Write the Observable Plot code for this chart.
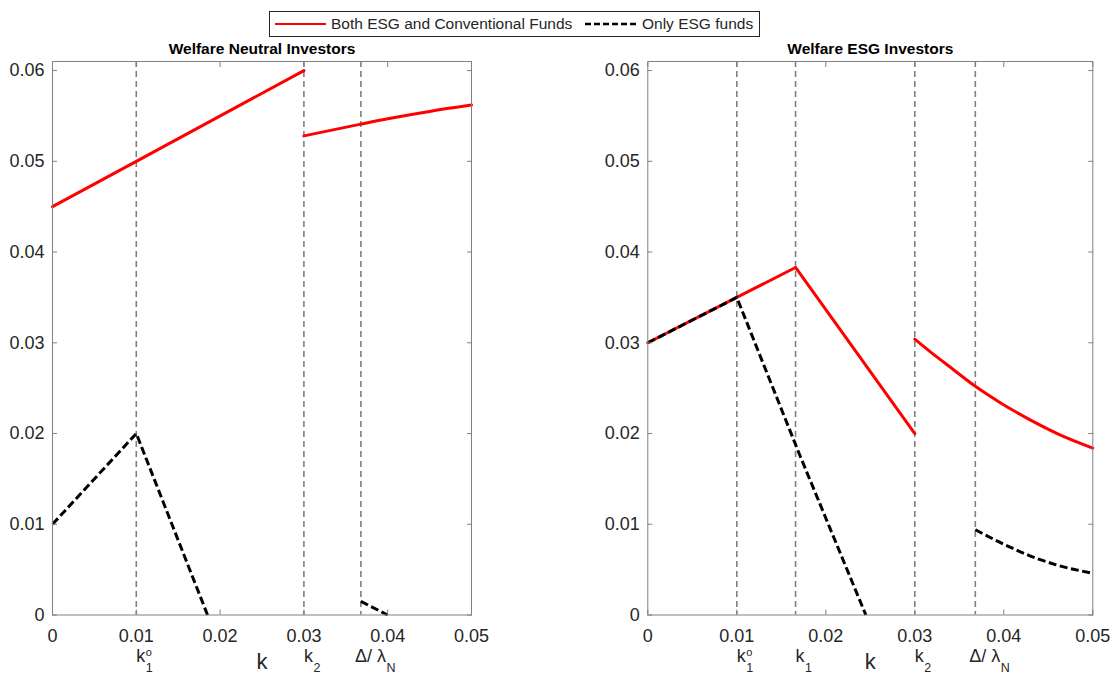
<!DOCTYPE html>
<html><head><meta charset="utf-8">
<script src="https://cdn.jsdelivr.net/npm/d3@7"></script>
<script src="https://cdn.jsdelivr.net/npm/@observablehq/plot@0.6"></script>
<style>
body{margin:0;background:#fff;font-family:"Liberation Sans",Arial,Helvetica,sans-serif;}
#wrap{position:relative;width:1118px;height:675px;overflow:hidden;background:#fff;}
.panel{position:absolute;top:0;}
#legend{position:absolute;left:269px;top:11px;width:491px;height:26px;border:1px solid #262626;background:#fff;box-sizing:border-box;}
</style></head><body>
<div id="wrap"><div id="p1" class="panel" style="left:0px"></div><div id="p2" class="panel" style="left:560px"></div><div id="legend"></div></div>
<script>
// ---------- data ----------
const seriesNames = ["Both ESG and Conventional Funds", "Only ESG funds"];
const seriesColors = ["#ff0000", "#000000"];

const xTicks = [0, 0.01, 0.02, 0.03, 0.04, 0.05];
const xTickLabels = ["0", "0.01", "0.02", "0.03", "0.04", "0.05"];
const yTicks = [0, 0.01, 0.02, 0.03, 0.04, 0.05, 0.06];
const yTickLabels = ["0", "0.01", "0.02", "0.03", "0.04", "0.05", "0.06"];

// Welfare Neutral Investors
const neutralBothSeg1K = [0, 0.01, 0.03];
const neutralBothSeg1W = [0.045, 0.05, 0.06];
const neutralBothSeg2K = [0.03, 0.0368, 0.04, 0.045, 0.05];
const neutralBothSeg2W = [0.0528, 0.0541, 0.0547, 0.0555, 0.0562];
const neutralOnlySeg1K = [0, 0.01, 0.0185];
const neutralOnlySeg1W = [0.01, 0.02, 0];
const neutralOnlySeg2K = [0.0368, 0.04];
const neutralOnlySeg2W = [0.0015, 0];
const neutralThresholds = [0.01, 0.03, 0.0368];
const neutralThreshBase = ["k", "k", "Δ/ λ"];
const neutralThreshSub = ["1", "2", "N"];
const neutralThreshSup = ["o", "", ""];

// Welfare ESG Investors
const esgBothSeg1K = [0, 0.01, 0.0166, 0.03];
const esgBothSeg1W = [0.03, 0.035, 0.0383, 0.0200];
const esgBothSeg2K = [0.03, 0.032, 0.034, 0.0368, 0.0396, 0.0426, 0.046, 0.05];
const esgBothSeg2W = [0.0304, 0.0288, 0.0273, 0.0252, 0.0234, 0.0217, 0.0200, 0.0184];
const esgOnlySeg1K = [0, 0.01, 0.017, 0.0245];
const esgOnlySeg1W = [0.03, 0.035, 0.0178, 0];
const esgOnlySeg2K = [0.0368, 0.04, 0.043, 0.046, 0.05];
const esgOnlySeg2W = [0.0094, 0.0078, 0.0065, 0.0055, 0.0046];
const esgThresholds = [0.01, 0.0166, 0.03, 0.0368];
const esgThreshBase = ["k", "k", "k", "Δ/ λ"];
const esgThreshSub = ["1", "1", "2", "N"];
const esgThreshSup = ["o", "", "", ""];

const panelTitles = ["Welfare Neutral Investors", "Welfare ESG Investors"];
const xAxisLabel = "k";

// ---------- helpers ----------
const FONT = '"Liberation Sans", Arial, Helvetica, sans-serif';
const TEXT = "#262626";
const AXIS = "#808080";
const TICKFS = 18;
const zipPts = (ks, ws) => ks.map((k, i) => ({k, w: ws[i]}));
const cv = document.createElement("canvas").getContext("2d");
cv.font = TICKFS + "px " + FONT;
const tw = s => cv.measureText(s).width;

function panel({width, marginLeft, marginRight, title, both, only, thresholds, base, sub, sup}) {
  const labels = thresholds.map((x, i) => ({x, base: base[i], sub: sub[i], sup: sup[i]}));
  const labelMarks = [];
  labels.forEach(d => {
    const dx0 = d.base === "k" ? 0 : -6;
    const off = dx0 + tw(d.base) + 0.5;
    labelMarks.push(Plot.text([d], {x: "x", text: "base", frameAnchor: "bottom", textAnchor: "start", lineAnchor: "middle", dx: dx0, dy: 41, fontSize: TICKFS, fill: TEXT}));
    if (d.sub) labelMarks.push(Plot.text([d], {x: "x", text: "sub", frameAnchor: "bottom", textAnchor: "start", lineAnchor: "middle", dx: off, dy: 53, fontSize: 12.5, fill: TEXT}));
    if (d.sup) labelMarks.push(Plot.text([d], {x: "x", text: "sup", frameAnchor: "bottom", textAnchor: "start", lineAnchor: "middle", dx: off, dy: 37, fontSize: 11, fill: TEXT}));
  });
  const lineMarks = [];
  both.forEach((seg, i) => lineMarks.push(Plot.line(seg, {x: "k", y: "w", stroke: seriesColors[0], strokeWidth: 3, curve: i ? "monotone-x" : "linear"})));
  only.forEach((seg, i) => lineMarks.push(Plot.line(seg, {x: "k", y: "w", stroke: seriesColors[1], strokeWidth: 3, strokeDasharray: "8,3.5", strokeLinecap: "butt", curve: i ? "monotone-x" : "linear"})));
  return Plot.plot({
    width, height: 675,
    marginLeft, marginRight, marginTop: 61, marginBottom: 60.5,
    style: {fontFamily: FONT, fontSize: TICKFS + "px", color: TEXT, background: "transparent", overflow: "visible"},
    x: {domain: [0, 0.05], label: null},
    y: {domain: [0, 0.061], label: null},
    marks: [
      Plot.ruleX(thresholds, {stroke: AXIS, strokeWidth: 1.6, strokeDasharray: "6,4"}),
      ...lineMarks,
      Plot.frame({stroke: AXIS, strokeWidth: 1}),
      Plot.axisX({anchor: "bottom", ticks: xTicks, tickSize: -5, tickFormat: () => "", stroke: AXIS, label: null}),
      Plot.axisX({anchor: "top", ticks: xTicks, tickSize: -5, tickFormat: () => "", stroke: AXIS, label: null}),
      Plot.axisY({anchor: "left", ticks: yTicks, tickSize: -5, tickFormat: () => "", stroke: AXIS, label: null}),
      Plot.axisY({anchor: "right", ticks: yTicks, tickSize: -5, tickFormat: () => "", stroke: AXIS, label: null}),
      Plot.axisX({anchor: "bottom", ticks: xTicks, tickSize: 0, tickPadding: 14, tickFormat: d => xTickLabels[xTicks.indexOf(d)], fill: TEXT, fontSize: TICKFS, label: null}),
      Plot.axisY({anchor: "left", ticks: yTicks, tickSize: 0, tickPadding: 8, tickFormat: d => yTickLabels[yTicks.indexOf(d)], fill: TEXT, fontSize: TICKFS, label: null}),
      Plot.text([title], {frameAnchor: "top", dy: -12, fontWeight: "bold", fontSize: 15.5, fill: "#000", lineAnchor: "middle"}),
      Plot.text([xAxisLabel], {frameAnchor: "bottom", dy: 47, fontSize: 22, fill: TEXT, lineAnchor: "middle"}),
      ...labelMarks
    ]
  });
}

const p1 = panel({
  width: 500, marginLeft: 52, marginRight: 29, title: panelTitles[0],
  both: [zipPts(neutralBothSeg1K, neutralBothSeg1W), zipPts(neutralBothSeg2K, neutralBothSeg2W)],
  only: [zipPts(neutralOnlySeg1K, neutralOnlySeg1W), zipPts(neutralOnlySeg2K, neutralOnlySeg2W)],
  thresholds: neutralThresholds, base: neutralThreshBase, sub: neutralThreshSub, sup: neutralThreshSup
});
const p2 = panel({
  width: 558, marginLeft: 87.3, marginRight: 25.7, title: panelTitles[1],
  both: [zipPts(esgBothSeg1K, esgBothSeg1W), zipPts(esgBothSeg2K, esgBothSeg2W)],
  only: [zipPts(esgOnlySeg1K, esgOnlySeg1W), zipPts(esgOnlySeg2K, esgOnlySeg2W)],
  thresholds: esgThresholds, base: esgThreshBase, sub: esgThreshSub, sup: esgThreshSup
});
document.getElementById("p1").appendChild(p1);
document.getElementById("p2").appendChild(p2);

// ---------- legend ----------
const lg = d3.select("#legend").append("svg").attr("width", 489).attr("height", 24)
  .style("display", "block").style("font-family", FONT);
const items = [{x0: 5, x1: 56, tx: 61}, {x0: 315, x1: 367, tx: 372}];
seriesNames.forEach((name, i) => {
  lg.append("line").attr("x1", items[i].x0).attr("x2", items[i].x1).attr("y1", 12).attr("y2", 12)
    .attr("stroke", seriesColors[i]).attr("stroke-width", i ? 2.5 : 2)
    .attr("stroke-dasharray", i ? "6,3" : null);
  lg.append("text").attr("x", items[i].tx).attr("y", 12).attr("dy", "0.35em")
    .attr("font-size", 15.5).attr("fill", TEXT).text(name);
});
</script>
</body></html>
